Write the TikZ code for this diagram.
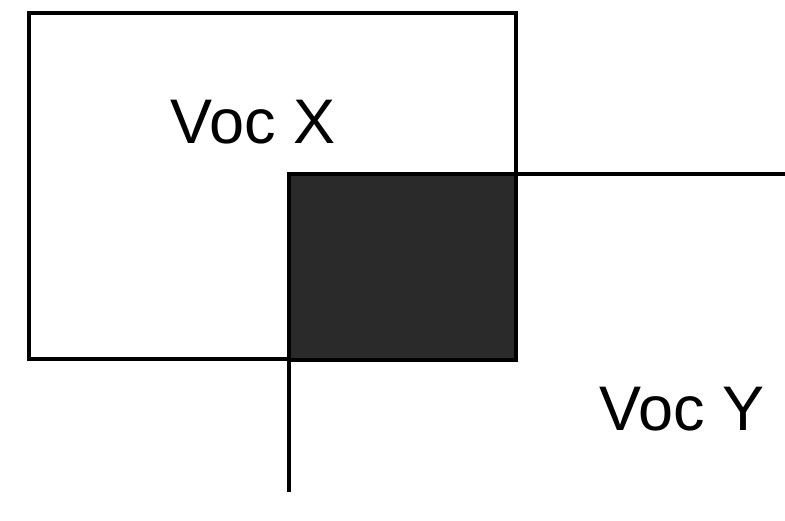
\documentclass[tikz,border=0pt]{standalone}
\usepackage{fontspec}
\setmainfont{Liberation Sans}
\usetikzlibrary{positioning}
\definecolor{OverlapColor}{RGB}{42,42,42}
\tikzset{
  vocbox/.style={draw=black, line width=3.5pt, inner sep=0pt, outer sep=0pt},
  voclabel/.style={font=\fontsize{63}{70}\selectfont, inner sep=0pt},
}

\begin{document}
\begin{tikzpicture}[x=1pt, y=-1pt]
      \useasboundingbox (0,0) rectangle (785,521);
      \node[vocbox, minimum width=487pt, minimum height=346pt] (vocx) at (272.5,186) {};
      \node[vocbox, fill=OverlapColor, minimum width=227pt, minimum height=186pt] (overlap) at (402.5,267) {};
      \coordinate (yright) at (785,174);
      \coordinate (ybottom) at (289,492);

      \draw[line width=3.5pt] (overlap.north east)--(yright);
      \draw[line width=3.5pt] (overlap.south west)--(ybottom);

      \node[voclabel] (labelx) at (253,122) {Voc X};
      \node[voclabel] (labely) at (682,409) {Voc Y};
    \end{tikzpicture}
\end{document}
